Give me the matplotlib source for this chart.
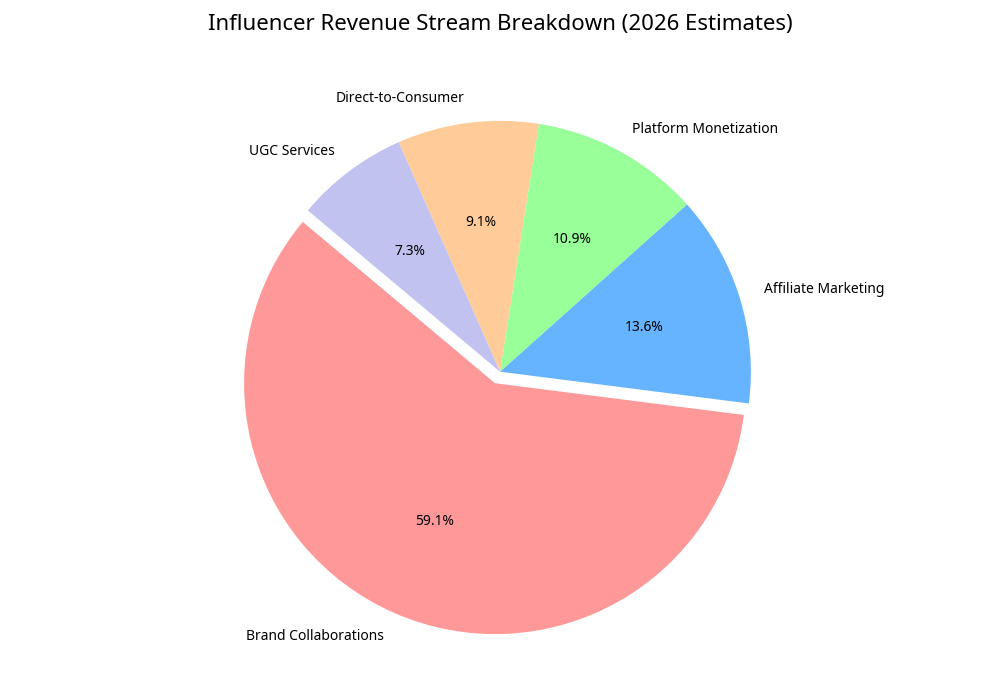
import matplotlib
matplotlib.use('Agg')
import matplotlib.pyplot as plt

plt.rcParams['font.family'] = ['Noto Sans', 'DejaVu Sans']

# revenue share (2026 estimates)
streams = ['Brand Collaborations', 'Affiliate Marketing', 'Platform Monetization',
           'Direct-to-Consumer', 'UGC Services']
shares = [65, 15, 12, 10, 8]
colors = ['#ff9999', '#66b3ff', '#99ff99', '#ffcc99', '#c2c2f0']
explode = [0.05, 0, 0, 0, 0]

fig = plt.figure(figsize=(10, 7), dpi=100)
ax = fig.add_axes([0.0, 0.021, 1.0, 0.896])
ax.pie(shares, labels=streams, colors=colors, explode=explode,
       autopct='%1.1f%%', startangle=140,
       textprops={'fontsize': 10})
ax.set_aspect('equal', adjustable='box')
ax.set_xlim(-1.25, 1.25)
ax.set_ylim(-1.25, 1.25)
fig.suptitle('Influencer Revenue Stream Breakdown (2026 Estimates)', fontsize=16, y=0.980)

plt.savefig('out.png')
